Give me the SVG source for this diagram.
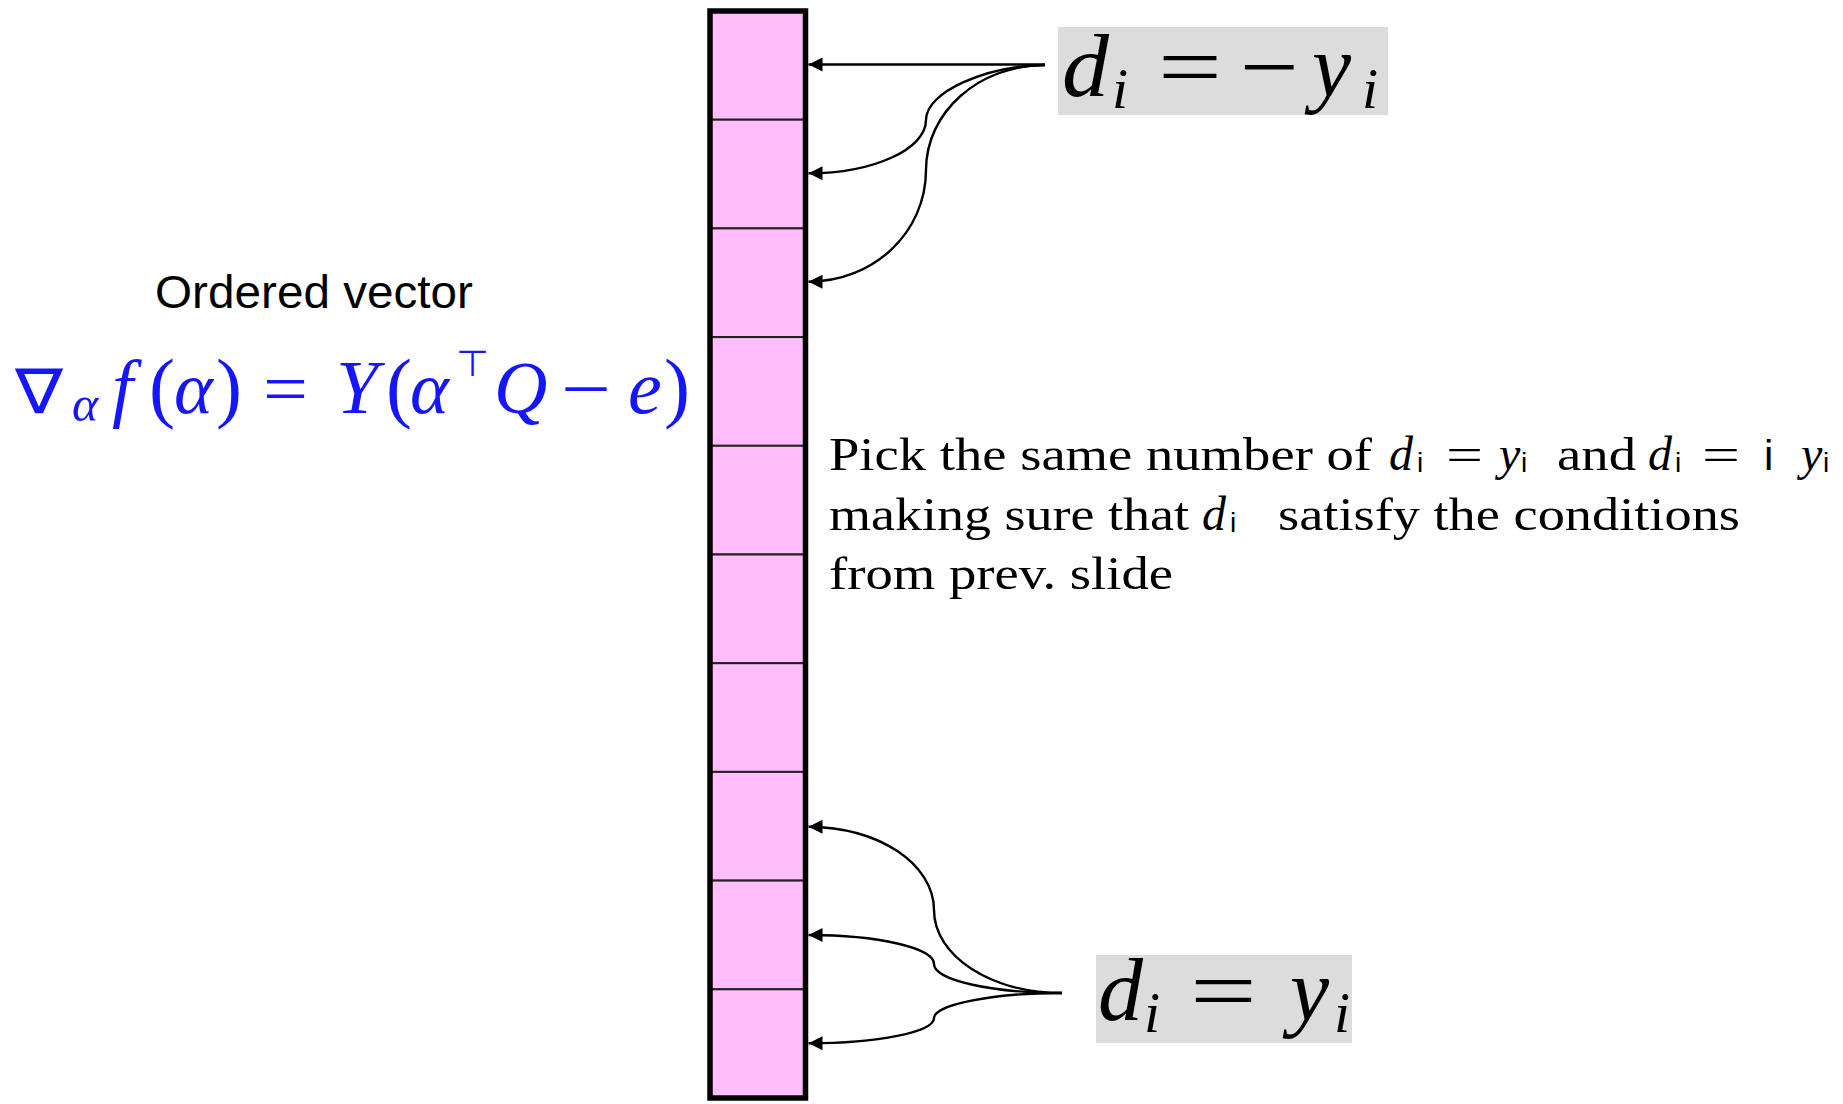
<svg xmlns="http://www.w3.org/2000/svg" width="1843" height="1104" viewBox="0 0 1843 1104">
<style>
.cell{fill:#ffbdfb;stroke:#222;stroke-width:2}
.frame{fill:none;stroke:#000;stroke-width:5.5}
.conn{fill:none;stroke:#000;stroke-width:2.4}
.lbl{fill:#dcdcdc}
.mi{font-family:"Liberation Serif",serif;font-style:italic;fill:#000}
.mr{font-family:"Liberation Serif",serif;fill:#000}
.sans{font-family:"Liberation Sans",Arial,sans-serif;fill:#000}
.bi{font-family:"Liberation Serif",serif;font-style:italic;fill:#1515ff}
.br{font-family:"Liberation Serif",serif;fill:#1515ff}
.bs{font-family:"DejaVu Sans",sans-serif;fill:#1515ff}
</style>
<defs>
<marker id="ah" markerWidth="15" markerHeight="15" refX="14" refY="7.5" orient="auto" markerUnits="userSpaceOnUse">
<path d="M0,0.5 L14,7.5 L0,14.5 z" fill="#000"/>
</marker>
</defs>

<g id="vector">
<rect class="cell" x="710" y="11" width="95.5" height="108.7"/>
<rect class="cell" x="710" y="119.7" width="95.5" height="108.7"/>
<rect class="cell" x="710" y="228.4" width="95.5" height="108.7"/>
<rect class="cell" x="710" y="337.1" width="95.5" height="108.7"/>
<rect class="cell" x="710" y="445.8" width="95.5" height="108.7"/>
<rect class="cell" x="710" y="554.5" width="95.5" height="108.7"/>
<rect class="cell" x="710" y="663.2" width="95.5" height="108.7"/>
<rect class="cell" x="710" y="771.9" width="95.5" height="108.7"/>
<rect class="cell" x="710" y="880.6" width="95.5" height="108.7"/>
<rect class="cell" x="710" y="989.3" width="95.5" height="108.7"/>
<rect class="frame" x="710" y="11" width="95.5" height="1087"/>
</g>

<g id="label-top">
<rect class="lbl" x="1058" y="27" width="330" height="88"/>
<text class="mi" x="1062" y="96" font-size="88" textLength="47" lengthAdjust="spacingAndGlyphs">d</text>
<text class="mi" x="1112" y="108" font-size="58">i</text>
<text class="mr" x="1158" y="96" font-size="86" textLength="64" lengthAdjust="spacingAndGlyphs">=</text>
<text class="mr" x="1240" y="96" font-size="86" textLength="59" lengthAdjust="spacingAndGlyphs">−</text>
<text class="mi" x="1312" y="96" font-size="88">y</text>
<text class="mi" x="1362" y="108" font-size="58">i</text>
</g>

<g id="label-bottom">
<rect class="lbl" x="1096" y="955" width="256" height="88"/>
<text class="mi" x="1098" y="1020" font-size="88" textLength="45" lengthAdjust="spacingAndGlyphs">d</text>
<text class="mi" x="1144" y="1032" font-size="58">i</text>
<text class="mr" x="1190" y="1020" font-size="86" textLength="67" lengthAdjust="spacingAndGlyphs">=</text>
<text class="mi" x="1290" y="1020" font-size="88">y</text>
<text class="mi" x="1334" y="1032" font-size="58">i</text>
</g>

<g id="title">
<text class="sans" x="155" y="308" font-size="46" textLength="318" lengthAdjust="spacingAndGlyphs">Ordered vector</text>
</g>

<g id="formula">
<text class="bs" x="15" y="413" font-size="62" textLength="48" lengthAdjust="spacingAndGlyphs">∇</text>
<text class="bi" x="72" y="421" font-size="50">α</text>
<text class="bi" x="112" y="413" font-size="76">f</text>
<text class="br" x="149" y="413" font-size="78">(</text>
<text class="bi" x="174" y="413" font-size="74">α</text>
<text class="br" x="216" y="413" font-size="78">)</text>
<text class="br" x="263" y="413" font-size="72" textLength="45" lengthAdjust="spacingAndGlyphs">=</text>
<text class="bi" x="336" y="413" font-size="76">Y</text>
<text class="br" x="386" y="413" font-size="78">(</text>
<text class="bi" x="410" y="413" font-size="74">α</text>
<text class="bs" x="456" y="376" font-size="36" textLength="33" lengthAdjust="spacingAndGlyphs">⊤</text>
<text class="bi" x="494" y="413" font-size="74">Q</text>
<text class="br" x="561" y="413" font-size="72" textLength="50" lengthAdjust="spacingAndGlyphs">−</text>
<text class="bi" x="628" y="413" font-size="76">e</text>
<text class="br" x="664" y="413" font-size="78">)</text>
</g>

<g id="note">
<text class="mr" x="829" y="470" font-size="47" textLength="543" lengthAdjust="spacingAndGlyphs">Pick the same number of</text>
<text class="mi" x="1389" y="470" font-size="48">d</text>
<text class="sans" x="1417" y="472" font-size="28">i</text>
<text class="mr" x="1446" y="470" font-size="47" textLength="37" lengthAdjust="spacingAndGlyphs">=</text>
<text class="mi" x="1499" y="470" font-size="48">y</text>
<text class="sans" x="1521" y="472" font-size="28">i</text>
<text class="mr" x="1557" y="470" font-size="47" textLength="79" lengthAdjust="spacingAndGlyphs">and</text>
<text class="mi" x="1648" y="470" font-size="48">d</text>
<text class="sans" x="1675" y="472" font-size="28">i</text>
<text class="mr" x="1702" y="470" font-size="47" textLength="38" lengthAdjust="spacingAndGlyphs">=</text>
<text class="sans" x="1764" y="470" font-size="42">i</text>
<text class="mi" x="1801" y="470" font-size="48">y</text>
<text class="sans" x="1823" y="472" font-size="28">i</text>

<text class="mr" x="829" y="530" font-size="47" textLength="360" lengthAdjust="spacingAndGlyphs">making sure that</text>
<text class="mi" x="1202" y="530" font-size="48">d</text>
<text class="sans" x="1230" y="532" font-size="28">i</text>
<text class="mr" x="1278" y="530" font-size="47" textLength="462" lengthAdjust="spacingAndGlyphs">satisfy the conditions</text>

<text class="mr" x="829" y="589" font-size="47" textLength="344" lengthAdjust="spacingAndGlyphs">from prev. slide</text>
</g>

<g id="connectors">
<path class="conn" marker-end="url(#ah)" d="M1045,64.5 L808.5,64.5"/>
<path class="conn" marker-end="url(#ah)" d="M1045,65 C985,66 926,92 926,120 C926,149 874,173.3 808.5,173.3"/>
<path class="conn" marker-end="url(#ah)" d="M1045,65 C979,65 926,112 926,170 C926,232 874,281.7 808.5,281.7"/>
<path class="conn" marker-end="url(#ah)" d="M1062,993 C991,993 934,956 934,910 C934,864 878,826.7 808.5,826.7"/>
<path class="conn" marker-end="url(#ah)" d="M1062,993 C991,993 934,980 934,964 C934,948 878,935 808.5,935"/>
<path class="conn" marker-end="url(#ah)" d="M1062,993 C991,993 934,1005 934,1018 C934,1032 878,1043.3 808.5,1043.3"/>
</g>
</svg>
